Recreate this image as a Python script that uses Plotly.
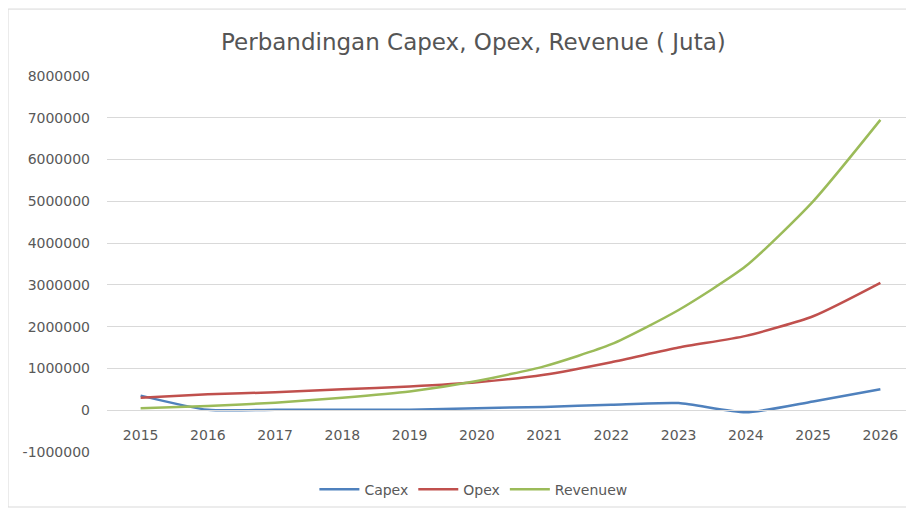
import plotly.graph_objects as go

years = ['2015', '2016', '2017', '2018', '2019', '2020',
         '2021', '2022', '2023', '2024', '2025', '2026']

capex = [350000, 10000, 10000, 10000, 10000, 50000,
         80000, 130000, 170000, -50000, 210000, 500000]
opex = [300000, 380000, 430000, 500000, 570000, 670000,
        850000, 1150000, 1500000, 1780000, 2250000, 3050000]
revenuew = [50000, 100000, 180000, 300000, 450000, 700000,
            1050000, 1580000, 2400000, 3450000, 5000000, 6950000]

y_ticks = [-1000000, 0, 1000000, 2000000, 3000000, 4000000,
           5000000, 6000000, 7000000, 8000000]

series = [('Capex', capex, '#4F81BD'),
          ('Opex', opex, '#C0504D'),
          ('Revenuew', revenuew, '#9BBB59')]

fig = go.Figure()
for name, vals, color in series:
    fig.add_trace(go.Scatter(
        x=years, y=vals,
        mode='lines',
        name=name,
        line=dict(color=color, width=2.5, shape='spline', smoothing=0.6),
    ))

# chart area border (page body has an 8px margin, so the figure is offset)
fig.add_shape(type='rect', xref='paper', yref='paper',
              x0=-0.12265, x1=1.03, y0=-0.1463, y1=1.178,
              line=dict(color='#D9D9D9', width=1), fillcolor='rgba(0,0,0,0)',
              layer='below')

tick_font = dict(family='DejaVu Sans', size=14, color='#595959')

fig.update_layout(
    width=906, height=506,
    paper_bgcolor='white',
    plot_bgcolor='white',
    margin=dict(l=99, r=0, t=68, b=62, autoexpand=False),
    title=dict(
        text='Perbandingan Capex, Opex, Revenue ( Juta)',
        x=0.454, xanchor='center', xref='paper',
        y=1 - 34 / 506, yref='container', yanchor='middle',
        font=dict(family='DejaVu Sans', size=23, color='#555555'),
    ),
    xaxis=dict(
        type='category',
        range=[-0.5, 11.5],
        anchor='free',
        position=1 / 9,
        showgrid=False,
        showline=True,
        linecolor='#D9D9D9',
        ticks='',
        tickfont=tick_font,
        ticklabelstandoff=12,
        automargin=False,
    ),
    yaxis=dict(
        range=[-1000000, 8000000],
        tickvals=y_ticks,
        ticktext=[str(v) for v in y_ticks],
        showgrid=True,
        gridcolor='#D9D9D9',
        gridwidth=1,
        zeroline=False,
        showline=False,
        tickfont=tick_font,
        ticklabelstandoff=16,
        automargin=False,
    ),
    showlegend=True,
    legend=dict(
        orientation='h',
        x=0.454, xanchor='center',
        y=-0.1, yanchor='middle',
        font=dict(family='DejaVu Sans', size=14, color='#595959'),
        itemwidth=40,
    ),
)

fig.write_html('out.html')
